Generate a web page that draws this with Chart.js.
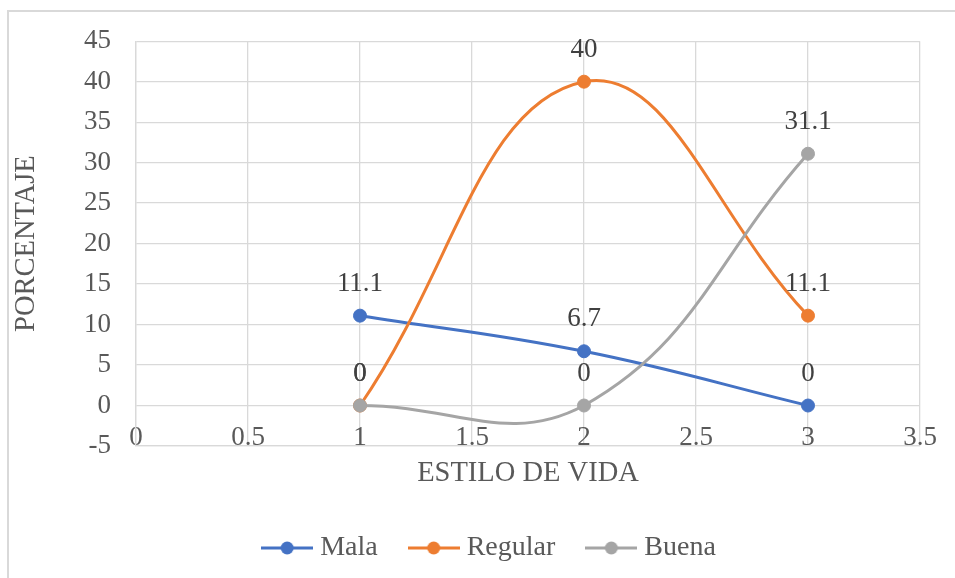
<!DOCTYPE html>
<html lang="es">
<head>
  <meta charset="UTF-8">
  <title>Estilo de vida</title>
  <script src="https://cdn.jsdelivr.net/npm/chart.js"></script>
  <style>
    body { margin: 0; background: #fff; overflow: hidden; width: 955px; height: 578px; position: relative; }
    #frame { position: absolute; left: 7px; top: 10px; width: 1000px; height: 600px; border: 2px solid #d9d9d9; }
    #wrap { position: absolute; left: 0; top: 0; width: 955px; height: 578px; }
  </style>
</head>
<body>
  <div id="frame"></div>
  <div id="wrap"><canvas id="chart"></canvas></div>

  <script>
    // valores
    const xValues = [1, 2, 3];
    const mala = [11.1, 6.7, 0];
    const regular = [0, 40, 11.1];
    const buena = [0, 0, 31.1];
    const seriesNames = ['Mala', 'Regular', 'Buena'];
    const seriesColors = ['#4472C4', '#ED7D31', '#A5A5A5'];
    const xTicks = [0, 0.5, 1, 1.5, 2, 2.5, 3, 3.5];
    const yTicks = [-5, 0, 5, 10, 15, 20, 25, 30, 35, 40, 45];

    Chart.defaults.font.family = "'Liberation Serif', 'Times New Roman', serif";
    Chart.defaults.font.size = 27;
    Chart.defaults.color = '#595959';

    function toPoints(values) {
      return values.map((v, i) => ({ x: xValues[i], y: v }));
    }

    // small picture of line + dot for the legend
    function legendMarker(color) {
      const c = document.createElement('canvas');
      c.width = 52; c.height = 16;
      const g = c.getContext('2d');
      g.strokeStyle = color;
      g.lineWidth = 3;
      g.beginPath(); g.moveTo(0, 8); g.lineTo(52, 8); g.stroke();
      g.fillStyle = color;
      g.beginPath(); g.arc(26, 8, 6.5, 0, Math.PI * 2); g.fill();
      return c;
    }

    const valueLabels = {
      id: 'valueLabels',
      afterDatasetsDraw(chart) {
        const ctx = chart.ctx;
        ctx.save();
        ctx.font = "27px 'Liberation Serif', 'Times New Roman', serif";
        ctx.fillStyle = '#404040';
        ctx.textAlign = 'center';
        ctx.textBaseline = 'middle';
        chart.data.datasets.forEach((ds, i) => {
          const meta = chart.getDatasetMeta(i);
          meta.data.forEach((pt, j) => {
            ctx.fillText(String(ds.data[j].y), pt.x, pt.y - 32);
          });
        });
        ctx.restore();
      }
    };

    const allSeries = [mala, regular, buena];
    const datasets = allSeries.map((vals, i) => ({
      label: seriesNames[i],
      data: toPoints(vals),
      showLine: true,
      borderColor: seriesColors[i],
      backgroundColor: seriesColors[i],
      borderWidth: 3,
      pointRadius: 6.5,
      pointBorderWidth: 1,
      pointBorderColor: seriesColors[i],
      tension: 0.42,
      order: 3 - i
    }));

    new Chart(document.getElementById('chart'), {
      type: 'scatter',
      data: { datasets: datasets },
      plugins: [valueLabels],
      options: {
        responsive: true,
        maintainAspectRatio: false,
        animation: false,
        layout: { padding: { top: 41, right: 35, bottom: 6, left: 64 } },
        plugins: {
          tooltip: { enabled: false },
          legend: {
            position: 'bottom',
            labels: {
              usePointStyle: true,
              pointStyleWidth: 38,
              padding: 37,
              color: '#595959',
              font: { size: 28 },
              generateLabels(chart) {
                return chart.data.datasets.map((ds, i) => ({
                  text: ds.label,
                  pointStyle: legendMarker(seriesColors[i]),
                  fillStyle: seriesColors[i],
                  strokeStyle: seriesColors[i],
                  lineWidth: 0,
                  fontColor: '#595959',
                  datasetIndex: i
                }));
              }
            }
          }
        },
        scales: {
          x: {
            type: 'linear',
            min: 0,
            max: 3.5,
            afterBuildTicks(scale) { scale.ticks = xTicks.map(v => ({ value: v })); },
            afterFit(scale) { scale.height = 51; },
            ticks: { mirror: true, padding: -8, color: '#595959', callback: v => String(v) },
            grid: { color: '#d9d9d9', lineWidth: 1.3, drawTicks: false },
            border: { color: '#d9d9d9', width: 1.3 },
            title: { display: true, text: 'ESTILO DE VIDA', color: '#595959', font: { size: 28.5 }, padding: { top: 0, bottom: 6 } }
          },
          y: {
            min: -5,
            max: 45,
            afterBuildTicks(scale) { scale.ticks = yTicks.map(v => ({ value: v })); },
            afterFit(scale) { scale.width = 72; },
            ticks: { padding: 25, color: '#595959', callback: v => String(v) },
            grid: { color: '#d9d9d9', lineWidth: 1.3, drawTicks: false },
            border: { color: '#d9d9d9', width: 1.3 },
            title: { display: true, text: 'PORCENTAJE', color: '#595959', font: { size: 28.5 }, padding: { top: -55, bottom: 0 } }
          }
        }
      }
    });
  </script>
</body>
</html>
